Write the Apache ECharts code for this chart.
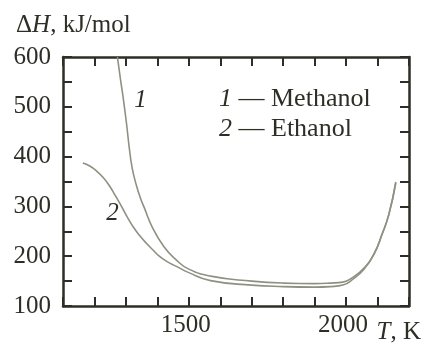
<!DOCTYPE html>
<html>
<head>
<meta charset="utf-8">
<script src="https://cdn.jsdelivr.net/npm/echarts@6/dist/echarts.min.js"></script>
<style>
  html, body { margin: 0; padding: 0; background: #fff; }
  #chart { width: 424px; height: 345px; }
</style>
</head>
<body>
<div id="chart"></div>
<script>
// values
var methanolT = [1273, 1283, 1292, 1302, 1311, 1320, 1333, 1346, 1358, 1384, 1421, 1459, 1500, 1569, 1700, 1800, 1900, 1950, 1990, 2020, 2057, 2089, 2114, 2136, 2158];
var methanolH = [600, 554, 515, 466, 416, 377, 343, 317, 298, 258, 219, 193, 174, 160, 150, 146, 145, 146, 148, 157, 176, 205, 244, 284, 349];
var ethanolT = [1163, 1185, 1207, 1229, 1248, 1267, 1286, 1305, 1324, 1343, 1365, 1387, 1406, 1431, 1459, 1500, 1569, 1700, 1800, 1900, 1950, 1990, 2020, 2057, 2089, 2114, 2136, 2158];
var ethanolH = [387, 381, 371, 357, 341, 321, 300, 278, 258, 242, 226, 212, 200, 189, 180, 167, 151, 142, 139, 138, 139, 142, 153, 174, 204, 243, 284, 347];
var xLabels = [1500, 2000];
var yLabels = [100, 200, 300, 400, 500, 600];
var label1 = [1346, 513];
var label2 = [1257, 286];

var font = 'Liberation Serif';
var ink = '#2e2e26';
var lineCol = '#8e9182';

function zip(a, b) {
    var out = [];
    a.map(function (v, i) { out.push([v, b[i]]); });
    return out;
}

var chart = echarts.init(document.getElementById('chart'));

var axisLine = { show: true, lineStyle: { color: ink, width: 2.5 } };
var tick = { show: true, inside: true, length: 9, lineStyle: { color: ink, width: 2 } };
var rich = {
    a: { fontFamily: font, fontSize: 25, color: ink, fontWeight: 'normal' },
    i: { fontFamily: font, fontSize: 25, color: ink, fontWeight: 'normal', fontStyle: 'italic' }
};

var option = {
    backgroundColor: '#fff',
    animation: false,
    grid: { left: 63, top: 57, right: 12, bottom: 35 },
    title: {
        left: 11, top: 8,
        text: '{a|Δ}{i|H}{a|, kJ/mol}',
        textStyle: { fontWeight: 'normal', rich: rich }
    },
    xAxis: [{
        type: 'value', min: 1100, max: 2200, interval: 100,
        axisLine: axisLine, axisTick: tick, splitLine: { show: false },
        axisLabel: {
            margin: 7, fontFamily: font, fontSize: 25, color: ink,
            padding: [0, 6, 0, 0],
            formatter: function (v) { return xLabels.indexOf(v) >= 0 ? String(v) : ''; }
        },
        name: '{i|T}{a|, K}',
        nameLocation: 'end', nameGap: 12,
        nameTextStyle: {
            align: 'right', verticalAlign: 'top', padding: [14, 0, 0, 0],
            rich: rich
        }
    }, {
        type: 'value', min: 1100, max: 2200, interval: 100, position: 'top',
        axisLine: axisLine, axisTick: tick, axisLabel: { show: false }, splitLine: { show: false }
    }],
    yAxis: [{
        type: 'value', min: 100, max: 600, interval: 50,
        axisLine: axisLine, axisTick: tick, splitLine: { show: false },
        axisLabel: {
            margin: 12, fontFamily: font, fontSize: 25, color: ink,
            formatter: function (v) { return yLabels.indexOf(v) >= 0 ? String(v) : ''; }
        }
    }, {
        type: 'value', min: 100, max: 600, interval: 50, position: 'right',
        axisLine: axisLine, axisTick: tick, axisLabel: { show: false }, splitLine: { show: false }
    }],
    graphic: [{
        type: 'text', left: 219, top: 86,
        style: {
            text: '{i|1} — Methanol',
            rich: { i: { fontFamily: font, fontSize: 26, fill: ink, fontStyle: 'italic' } },
            font: '26px "' + font + '"', fill: ink
        }
    }, {
        type: 'text', left: 219, top: 116,
        style: {
            text: '{i|2} — Ethanol',
            rich: { i: { fontFamily: font, fontSize: 26, fill: ink, fontStyle: 'italic' } },
            font: '26px "' + font + '"', fill: ink
        }
    }],
    series: [{
        name: 'Methanol', type: 'line', smooth: 0.5, symbol: 'none',
        data: zip(methanolT, methanolH),
        lineStyle: { color: lineCol, width: 1.6 },
        markPoint: {
            symbol: 'circle', symbolSize: 0,
            label: { show: true, formatter: '1', fontFamily: font, fontSize: 25, fontStyle: 'italic', color: ink },
            data: [{ coord: label1 }]
        }
    }, {
        name: 'Ethanol', type: 'line', smooth: 0.5, symbol: 'none',
        data: zip(ethanolT, ethanolH),
        lineStyle: { color: lineCol, width: 1.6 },
        markPoint: {
            symbol: 'circle', symbolSize: 0,
            label: { show: true, formatter: '2', fontFamily: font, fontSize: 25, fontStyle: 'italic', color: ink },
            data: [{ coord: label2 }]
        }
    }]
};
chart.setOption(option);
</script>
</body>
</html>
